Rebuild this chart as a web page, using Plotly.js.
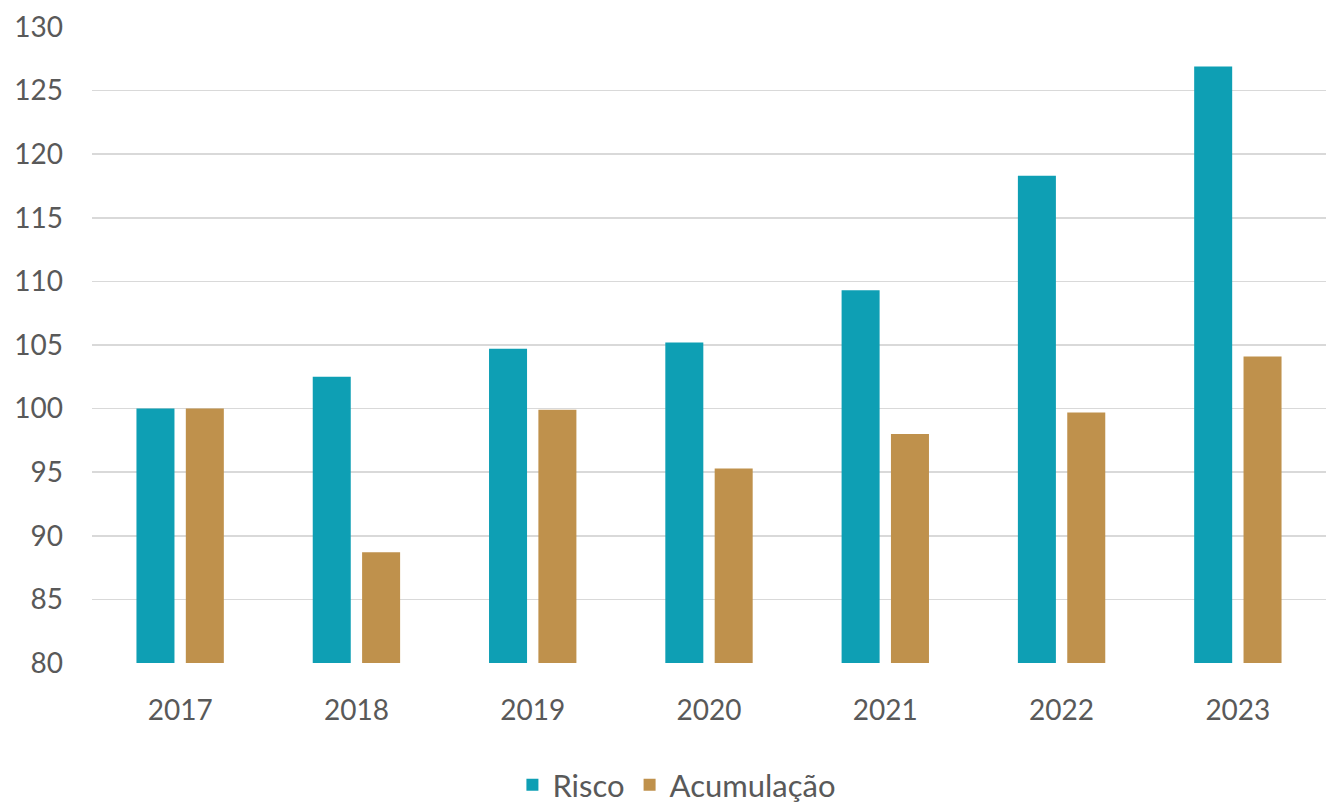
<!DOCTYPE html>
<html><head><meta charset="utf-8">
<script src="https://cdn.plot.ly/plotly-3.0.1.min.js"></script>
<style>html,body{margin:0;padding:0;background:#fff}#chart{width:1330px;height:803px}</style>
</head><body><div id="chart"></div>
<script>
var years = ['2017','2018','2019','2020','2021','2022','2023'];
var risco = [100, 102.5, 104.7, 105.2, 109.3, 118.3, 126.9];
var acumulacao = [100, 88.7, 99.9, 95.3, 98.0, 99.7, 104.1];
var seriesNames = ['Risco', 'Acumulação'];
var yTicks = [80, 85, 90, 95, 100, 105, 110, 115, 120, 125, 130];

var font = {family: 'Lato, "Open Sans", sans-serif', size: 28, color: '#595959'};
var legendFont = {family: 'Lato, "Open Sans", sans-serif', size: 31, color: '#595959'};
var data = [
  {type: 'bar', x: years, y: risco, name: seriesNames[0], marker: {color: '#0E9FB4'}, hoverinfo: 'none'},
  {type: 'bar', x: years, y: acumulacao, name: seriesNames[1], marker: {color: '#BF914C'}, hoverinfo: 'none'}
];
var layout = {
  width: 1330, height: 803,
  margin: {l: 92, r: 4, t: 27, b: 140, autoexpand: false},
  paper_bgcolor: '#fff', plot_bgcolor: '#fff',
  font: font,
  barmode: 'group', bargap: 0.44, bargroupgap: 0.23,
  xaxis: {type: 'category', showgrid: false, zeroline: false, showline: false, ticks: '', ticklabelstandoff: 28, tickfont: font},
  yaxis: {range: [80, 130], tickvals: yTicks, ticktext: yTicks.map(String), showgrid: true, gridcolor: '#D9D9D9', gridwidth: 1.5,
          zeroline: false, showline: false, ticks: '', ticklabelstandoff: 28, tickfont: font},
  showlegend: true,
  legend: {orientation: 'h', x: 0.474, xanchor: 'center', y: -0.192, yanchor: 'middle', font: legendFont, itemwidth: 30, traceorder: 'normal'}
};
Plotly.newPlot('chart', data, layout, {staticPlot: true});
</script></body></html>
